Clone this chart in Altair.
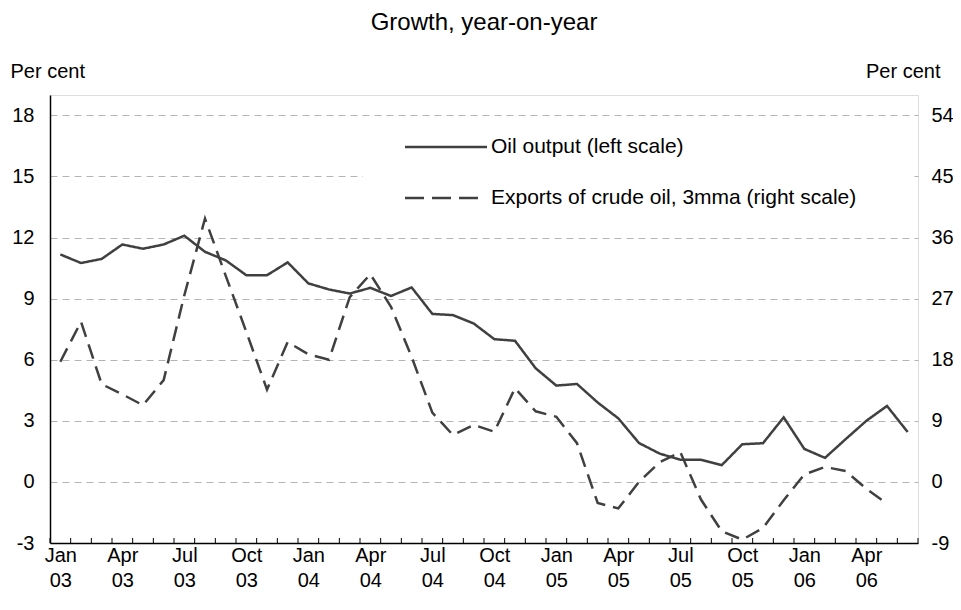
import json
import altair as alt
import pandas as pd

# ---------------- data ----------------
months = [
    "Jan 03", "Feb 03", "Mar 03", "Apr 03", "May 03", "Jun 03", "Jul 03", "Aug 03", "Sep 03", "Oct 03", "Nov 03", "Dec 03",
    "Jan 04", "Feb 04", "Mar 04", "Apr 04", "May 04", "Jun 04", "Jul 04", "Aug 04", "Sep 04", "Oct 04", "Nov 04", "Dec 04",
    "Jan 05", "Feb 05", "Mar 05", "Apr 05", "May 05", "Jun 05", "Jul 05", "Aug 05", "Sep 05", "Oct 05", "Nov 05", "Dec 05",
    "Jan 06", "Feb 06", "Mar 06", "Apr 06", "May 06", "Jun 06",
]
oil_output = [
    11.17, 10.75, 10.95, 11.66, 11.45, 11.66, 12.09, 11.30, 10.88, 10.15, 10.15, 10.78,
    9.75, 9.45, 9.25, 9.53, 9.13, 9.55, 8.25, 8.19, 7.78, 7.01, 6.93, 5.58,
    4.73, 4.81, 3.90, 3.12, 1.91, 1.39, 1.09, 1.09, 0.82, 1.85, 1.90, 3.17,
    1.62, 1.18, 2.10, 3.00, 3.73, 2.45,
]
exports_3mma = [
    17.7, 23.6, 14.4, 12.9, 11.3, 15.0, 27.5, 38.8, 30.4, 22.1, 13.6, 20.6,
    18.8, 18.0, 27.2, 30.6, 25.8, 18.4, 10.2, 6.9, 8.4, 7.4, 13.8, 10.4,
    9.6, 5.7, -3.1, -3.9, 0.0, 2.9, 4.4, -2.6, -7.25, -8.5, -6.8, -2.7,
    1.1, 2.2, 1.6, -1.0, -3.2,
]
tick_labels = ["Jan 03", "Apr 03", "Jul 03", "Oct 03", "Jan 04", "Apr 04", "Jul 04",
               "Oct 04", "Jan 05", "Apr 05", "Jul 05", "Oct 05", "Jan 06", "Apr 06"]
left_ticks = [-3, 0, 3, 6, 9, 12, 15, 18]
right_ticks = [-9, 0, 9, 18, 27, 36, 45, 54]
series_names = ["Oil output (left scale)", "Exports of crude oil, 3mma (right scale)"]
title_text = "Growth, year-on-year"
axis_title = "Per cent"

# ---------------- style ----------------
FONT = "Liberation Sans"
FS = 20
LEG_FS = 21
TITLE_FS = 24
LINE = "#404040"
DASH = [15, 8]
W, H = 868, 448

pos = {m: i + 0.5 for i, m in enumerate(months)}
df_oil = pd.DataFrame({"t": [pos[m] for m in months], "value": oil_output, "series": series_names[0]})
df_exp = pd.DataFrame({"t": [pos[m] for m in months[:len(exports_3mma)]], "value": exports_3mma,
                       "series": series_names[1]})
df_ticks = pd.DataFrame({"t": list(range(len(months) + 1))})

tick_pos = [pos[l] for l in tick_labels]
label_arr = json.dumps([l.split(" ") for l in tick_labels])
label_expr = f"{label_arr}[indexof({json.dumps(tick_pos)}, datum.value)]"

x_scale = alt.Scale(domain=[0, len(months)], nice=False, zero=False)
x_enc = alt.X(
    "t:Q", scale=x_scale,
    axis=alt.Axis(values=tick_pos, labelExpr=label_expr, ticks=False, grid=False,
                  domainColor="black", domainWidth=1.5, labelPadding=2,
                  labelFontSize=FS, labelFont=FONT, labelColor="black",
                  labelLineHeight=25, labelFlush=False, labelOverlap=False,
                  labelBaseline="top", title=None),
)

stroke_dash = alt.StrokeDash(
    "series:N",
    scale=alt.Scale(domain=series_names, range=[[1, 0], DASH]),
    legend=None,
)

left_axis = alt.Axis(orient="left", values=left_ticks, grid=True, gridDash=[7, 5],
                     gridColor="#b3b3b3", gridWidth=1, ticks=False, domainColor="black",
                     domainWidth=1.5, labelPadding=16, labelFontSize=FS, labelFont=FONT,
                     labelColor="black", labelExpr="toString(datum.value)",
                     title=axis_title, titleAngle=0, titleX=-40,
                     titleY=-18, titleAlign="left", titleBaseline="alphabetic",
                     titleFontSize=FS, titleFont=FONT, titleFontWeight="normal",
                     titleColor="black")
right_axis = alt.Axis(orient="right", values=right_ticks, grid=False, ticks=False,
                      domain=False, labelPadding=13, labelFontSize=FS, labelFont=FONT,
                      labelColor="black", labelExpr="toString(datum.value)",
                      title=axis_title, titleAngle=0, titleX=22,
                      titleY=-18, titleAlign="right", titleBaseline="alphabetic",
                      titleFontSize=FS, titleFont=FONT, titleFontWeight="normal",
                      titleColor="black")

# white box behind the legend (hides the gridline it sits on)
legend_bg = alt.Chart(pd.DataFrame({"a": [0]})).mark_rect(color="white").encode(
    x=alt.value(313), x2=alt.value(860), y=alt.value(32), y2=alt.value(118)
)

# manual legend
leg_solid = alt.Chart(pd.DataFrame({"a": [0]})).mark_rule(
    color=LINE, strokeWidth=2.5).encode(x=alt.value(355), x2=alt.value(437), y=alt.value(52))
leg_dash = alt.Chart(pd.DataFrame({"a": [0]})).mark_rule(
    color=LINE, strokeWidth=2.5, strokeDash=[19, 8]).encode(
    x=alt.value(355), x2=alt.value(432), y=alt.value(103))
leg_text1 = alt.Chart(pd.DataFrame({"label": [series_names[0]]})).mark_text(
    align="left", baseline="middle", font=FONT, fontSize=LEG_FS, color="black").encode(
    x=alt.value(441), y=alt.value(52), text="label:N")
leg_text2 = alt.Chart(pd.DataFrame({"label": [series_names[1]]})).mark_text(
    align="left", baseline="middle", font=FONT, fontSize=LEG_FS, color="black").encode(
    x=alt.value(441), y=alt.value(103), text="label:N")

ticks_layer = alt.Chart(df_ticks).mark_rule(color="black", strokeWidth=1).encode(
    x=x_enc, y=alt.value(H), y2=alt.value(H - 5)
)

oil_line = alt.Chart(df_oil).mark_line(color=LINE, strokeWidth=2.5).encode(
    x=x_enc,
    y=alt.Y("value:Q", scale=alt.Scale(domain=[-3, 19], nice=False, zero=False), axis=left_axis),
    strokeDash=stroke_dash,
)
exp_line = alt.Chart(df_exp).mark_line(color=LINE, strokeWidth=2.5).encode(
    x=x_enc,
    y=alt.Y("value:Q", scale=alt.Scale(domain=[-9, 57], nice=False, zero=False), axis=right_axis),
    strokeDash=stroke_dash,
)

chart = (
    alt.layer(legend_bg, ticks_layer, oil_line, exp_line,
              leg_solid, leg_dash, leg_text1, leg_text2)
    .resolve_scale(y="independent")
    .properties(
        width=W, height=H,
        title=alt.TitleParams(title_text, fontSize=TITLE_FS, font=FONT, fontWeight="normal",
                              color="black", anchor="middle", baseline="alphabetic",
                              offset=7),
        autosize=alt.AutoSizeParams(type="none"),
        padding={"left": 42, "top": 87, "right": 35, "bottom": 58},
    )
    .configure_view(stroke="#808080", strokeWidth=1.5)
    .configure(background="white")
)

chart.save("out.html", embed_options={"renderer": "svg", "actions": False})
